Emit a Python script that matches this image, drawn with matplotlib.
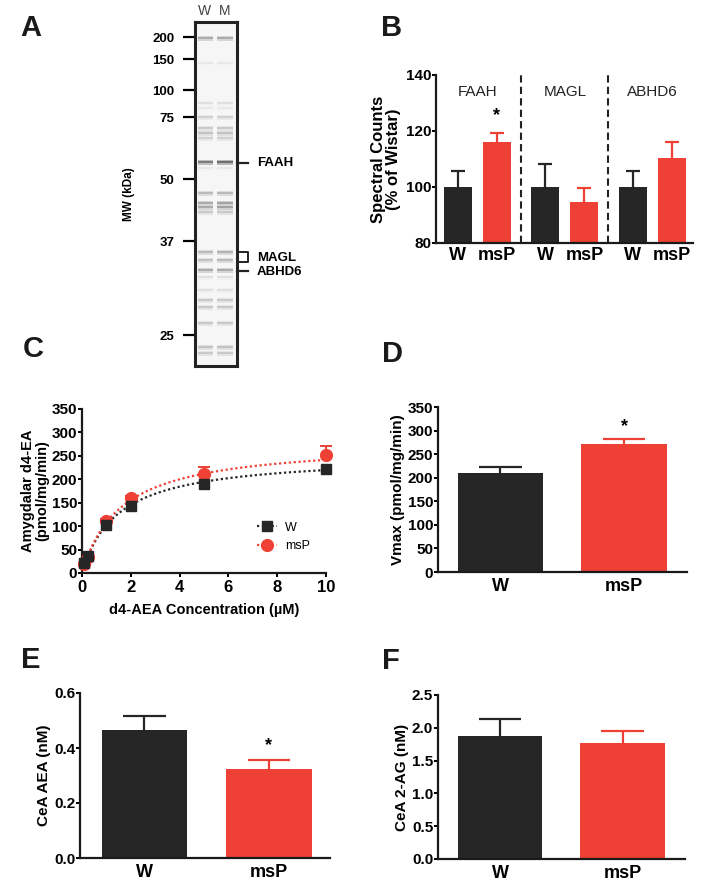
import numpy as np
import matplotlib
matplotlib.use("Agg")
import matplotlib.pyplot as plt

plt.rcParams['font.family'] = ['Liberation Sans', 'DejaVu Sans']
plt.rcParams['font.weight'] = 'bold'
plt.rcParams['axes.labelweight'] = 'bold'

BLACK = '#262626'
RED = '#ee4035'
GROUPS = ['W', 'msP']

# ── Panel A: gel ──────────────────────────────────────────────────────────────
mw_labels = ['200', '150', '100', '75', '50', '37', '25']
mw_pos = [15, 37, 68, 95, 157, 219, 313]          # distance from gel top
band_pos = [16, 41, 81, 86, 95, 106, 111, 116, 140, 146, 171, 181, 185, 190,
            230, 238, 248, 255, 268, 278, 285, 301, 325, 331]
band_w = [0.55, 0.15, 0.2, 0.15, 0.3, 0.35, 0.4, 0.3, 0.85, 0.15, 0.45, 0.55,
          0.55, 0.35, 0.45, 0.4, 0.55, 0.2, 0.2, 0.35, 0.35, 0.35, 0.4, 0.35]
band_m = [0.55, 0.15, 0.2, 0.15, 0.3, 0.35, 0.4, 0.3, 0.95, 0.15, 0.45, 0.6,
          0.6, 0.35, 0.5, 0.45, 0.55, 0.2, 0.2, 0.35, 0.35, 0.35, 0.4, 0.35]

# ── Panel B: spectral counts ─────────────────────────────────────────────────
enzymes = ['FAAH', 'MAGL', 'ABHD6']
sc_w = [100, 100, 100]
sc_w_err = [5.7, 8.2, 5.8]
sc_msp = [116, 94.5, 110.5]
sc_msp_err = [3.3, 5.2, 5.5]

# ── Panel C: kinetics ────────────────────────────────────────────────────────
conc = [0.1, 0.25, 1, 2, 5, 10]
rate_w = [22, 36, 102, 143, 191, 221]
rate_w_err = [2, 3, 4, 4, 4, 4]
rate_msp = [19, 35, 111, 160, 211, 252]
rate_msp_err = [2, 3, 4, 5, 15, 18]
fit_w = (252, 1.47)      # Vmax, Km of the plotted fit
fit_msp = (280, 1.6)

# ── Panel D/E/F ──────────────────────────────────────────────────────────────
vmax = [211, 271]
vmax_err = [12, 12]
aea = [0.465, 0.322]
aea_err = [0.05, 0.036]
ag2 = [1.87, 1.77]
ag2_err = [0.27, 0.18]

W, H = 701, 886
fig = plt.figure(figsize=(W / 100, H / 100), dpi=100)


def px_axes(l, t, r, b):
    return fig.add_axes([l / W, 1 - b / H, (r - l) / W, (b - t) / H])


def style(ax):
    for s in ['top', 'right']:
        ax.spines[s].set_visible(False)
    for s in ['left', 'bottom']:
        ax.spines[s].set_linewidth(1.6)
        ax.spines[s].set_color('#1a1a1a')
    ax.tick_params(axis='y', length=3, width=1.4, pad=0.5, labelsize=11)
    ax.tick_params(axis='x', length=0, pad=4, labelsize=13)


def upper_err(ax, x, y, e, w, color):
    ax.vlines(x, y, y + e, color=color, lw=1.6, zorder=1)
    ax.hlines(y + e, x - w / 2, x + w / 2, color=color, lw=1.6, zorder=1)


def two_bars(ax, vals, errs, ylim, yticks, ylabel, fmt):
    style(ax)
    x = np.arange(2)
    ax.bar(x, vals, width=0.69, color=[BLACK, RED], zorder=2)
    for i in x:
        upper_err(ax, i, vals[i], errs[i], 0.345, [BLACK, RED][i])
    ax.set_ylim(*ylim)
    ax.set_yticks(yticks)
    ax.set_yticklabels([fmt.format(v) for v in yticks])
    ax.set_xticks(x)
    ax.set_xticklabels(GROUPS)
    ax.set_ylabel(ylabel, fontsize=11, labelpad=2)


def letter(x, y, s):
    fig.text(x / W, 1 - y / H, s, fontsize=21, fontweight='bold',
             ha='center', va='center', color='#1a1a1a')


# Panel A
ax = px_axes(195, 22, 237, 366)
ax.set_xlim(0, 42)
ax.set_ylim(344, 0)
ax.set_facecolor('#f6f6f6')
for left, width, dens in [(3, 15, band_w), (22, 16, band_m)]:
    ax.barh(band_pos, width, left=left, height=5,
            color=[str(1 - 0.3 * v) for v in dens], zorder=1)
    ax.barh(band_pos, width, left=left, height=2.2,
            color=[str(1 - 0.6 * v) for v in dens], zorder=2)
for s in ax.spines.values():
    s.set_linewidth(2.2)
    s.set_color('#222222')
ax.set_xticks([])
ax.set_yticks(mw_pos)
ax.set_yticklabels(mw_labels, fontsize=9.5)
ax.tick_params(axis='y', length=9, width=1.6, pad=6)
ax.set_ylabel('MW (kDa)', fontsize=8.5, labelpad=12)
ax.text(10, -4, 'W', fontsize=10, fontweight='normal', color='#444444', ha='center', va='bottom')
ax.text(30, -4, 'M', fontsize=10, fontweight='normal', color='#444444', ha='center', va='bottom')
ax.plot([42, 53], [141, 141], color='#222222', lw=1.6, clip_on=False)
ax.text(62, 141, 'FAAH', fontsize=9.5, va='center')
ax.plot([42, 53, 53, 42], [230, 230, 240, 240], color='#222222', lw=1.4, clip_on=False)
ax.text(62, 236, 'MAGL', fontsize=9.5, va='center')
ax.plot([42, 53], [249, 249], color='#222222', lw=1.6, clip_on=False)
ax.text(62, 250, 'ABHD6', fontsize=9.5, va='center')
letter(31, 28, 'A')

# Panel B
ax = px_axes(436, 75, 693, 243)
style(ax)
g = np.arange(len(enzymes))
ax.bar(g, sc_w, width=0.32, bottom=0, color=BLACK, zorder=2)
ax.bar(g + 0.446, sc_msp, width=0.32, color=RED, zorder=2)
for i in g:
    upper_err(ax, i, sc_w[i], sc_w_err[i], 0.16, BLACK)
    upper_err(ax, i + 0.446, sc_msp[i], sc_msp_err[i], 0.16, RED)
    ax.text(i + 0.223, 134, enzymes[i], fontsize=11, fontweight='normal',
            ha='center', va='center', color='#222222')
for i in g[:-1]:
    ax.axvline(i + 0.72, color='#222222', lw=1.5, ls=(0, (3.5, 2)))
ax.text(0.446, 125.5, '*', fontsize=13, ha='center', va='center')
ax.set_xlim(-0.251, 2.686)
ax.set_ylim(80, 140)
ax.set_yticks([80, 100, 120, 140])
ax.set_xticks(np.concatenate([g, g + 0.446]))
ax.set_xticklabels(['W'] * 3 + ['msP'] * 3)
ax.tick_params(axis='x', pad=3)
ax.set_ylabel('Spectral Counts\n(% of Wistar)', fontsize=12, labelpad=3, linespacing=1.0)
letter(392, 28, 'B')

# Panel C
ax = px_axes(82, 409, 326, 573)
style(ax)
ax.tick_params(axis='x', length=3, width=1.4, pad=2, labelsize=12)
xs = np.linspace(0.05, 10, 200)
for (vm, km), col in [(fit_w, BLACK), (fit_msp, RED)]:
    ax.plot(xs, vm * xs / (km + xs), color=col, lw=1.6, ls=(0, (1, 1.2)), zorder=1)
ax.errorbar(conc, rate_msp, yerr=[[0] * 6, rate_msp_err], fmt='none', ecolor=RED,
            elinewidth=1.4, capsize=4, capthick=1.4, zorder=2, clip_on=False)
ax.errorbar(conc, rate_w, yerr=[[0] * 6, rate_w_err], fmt='none', ecolor=BLACK,
            elinewidth=1.4, capsize=3, capthick=1.4, zorder=2, clip_on=False)
ax.plot(conc, rate_msp, 'o', color=RED, ms=8.5, zorder=3, clip_on=False)
ax.plot(conc, rate_w, 's', color=BLACK, ms=6.5, zorder=4, clip_on=False)
ax.plot([], [], 's', color=BLACK, ms=6.5, ls=(0, (1, 1.2)), lw=1.6, label='W')
ax.plot([], [], 'o', color=RED, ms=8.5, ls=(0, (1, 1.2)), lw=1.6, label='msP')
ax.legend(loc='lower right', bbox_to_anchor=(0.98, 0.06), frameon=False,
          prop={'weight': 'normal', 'size': 9}, handlelength=1.6, handletextpad=0.6,
          labelspacing=0.5)
ax.set_xlim(0, 10)
ax.set_ylim(0, 350)
ax.set_xticks([0, 2, 4, 6, 8, 10])
ax.set_yticks(range(0, 351, 50))
ax.set_xlabel('d4-AEA Concentration (\u00b5M)', fontsize=10.5, labelpad=6)
ax.set_ylabel('Amygdalar d4-EA\n(pmol/mg/min)', fontsize=10.5, labelpad=2, linespacing=1.0)
letter(33, 349, 'C')

# Panel D
ax = px_axes(438, 407, 687, 572)
two_bars(ax, vmax, vmax_err, (0, 350), list(range(0, 351, 50)),
         'Vmax (pmol/mg/min)', '{:d}')
ax.set_xlim(-0.506, 1.51)
ax.text(1, 309, '*', fontsize=13, ha='center', va='center')
letter(392, 354, 'D')

# Panel E
ax = px_axes(80, 693, 330, 858)
two_bars(ax, aea, aea_err, (0, 0.6), [0.0, 0.2, 0.4, 0.6], 'CeA AEA (nM)', '{:.1f}')
ax.set_xlim(-0.518, 1.49)
ax.text(1, 0.41, '*', fontsize=13, ha='center', va='center')
letter(31, 660, 'E')

# Panel F
ax = px_axes(438, 695, 685, 859)
two_bars(ax, ag2, ag2_err, (0, 2.5), [0.0, 0.5, 1.0, 1.5, 2.0, 2.5],
         'CeA 2-AG (nM)', '{:.1f}')
ax.set_xlim(-0.506, 1.51)
letter(391, 661, 'F')

fig.savefig('out.png', dpi=100)
